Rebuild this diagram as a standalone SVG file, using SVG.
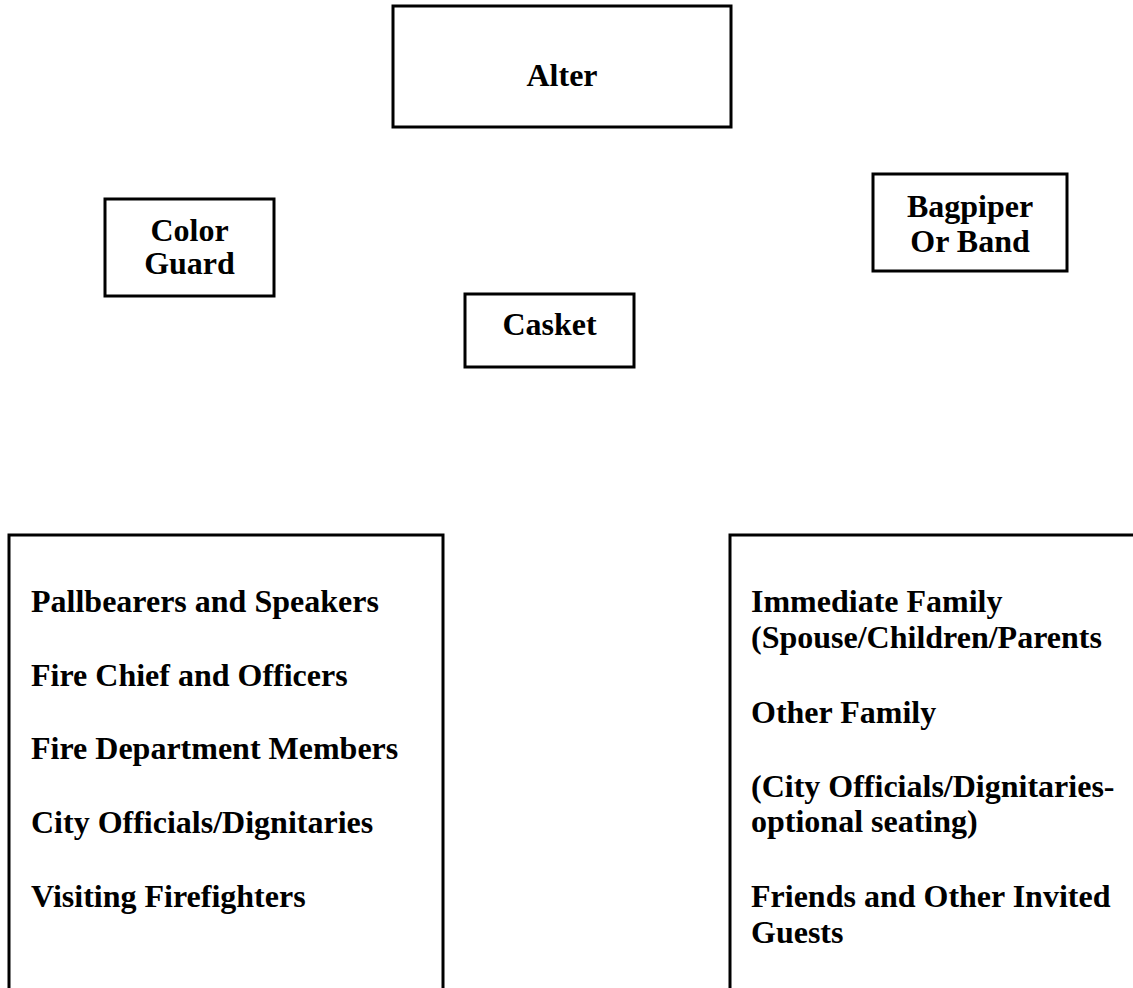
<svg xmlns="http://www.w3.org/2000/svg" width="1133" height="988" viewBox="0 0 1133 988">
<style>
.box{fill:#fff;stroke:#000;stroke-width:3}
text{font-family:"Liberation Serif","Times New Roman",serif;font-weight:bold;font-size:32px;fill:#000}
.c{text-anchor:middle}
</style>
<rect width="1133" height="988" fill="#fff"/>
<g id="alter"><rect class="box" x="393" y="6" width="338" height="121"/><text class="c" x="562" y="86">Alter</text></g>
<g id="color-guard"><rect class="box" x="105" y="199" width="169" height="97"/><text class="c" x="189.5" y="241">Color</text><text class="c" x="189.5" y="274">Guard</text></g>
<g id="bagpiper"><rect class="box" x="873" y="174" width="194" height="97"/><text class="c" x="970" y="217">Bagpiper</text><text class="c" x="970" y="252">Or Band</text></g>
<g id="casket"><rect class="box" x="465" y="294" width="169" height="73"/><text class="c" x="549.5" y="335">Casket</text></g>
<g id="left-seating"><rect class="box" x="9" y="535" width="434" height="500"/>
<text x="31" y="612">Pallbearers and Speakers</text>
<text x="31" y="686">Fire Chief and Officers</text>
<text x="31" y="759">Fire Department Members</text>
<text x="31" y="833">City Officials/Dignitaries</text>
<text x="31" y="907">Visiting Firefighters</text></g>
<g id="right-seating"><rect class="box" x="730" y="535" width="450" height="500"/>
<text x="751" y="612">Immediate Family</text>
<text x="751" y="648">(Spouse/Children/Parents</text>
<text x="751" y="723">Other Family</text>
<text x="751" y="797">(City Officials/Dignitaries-</text>
<text x="751" y="832">optional seating)</text>
<text x="751" y="907">Friends and Other Invited</text>
<text x="751" y="943">Guests</text></g>
<g id="connectors"></g>
</svg>
